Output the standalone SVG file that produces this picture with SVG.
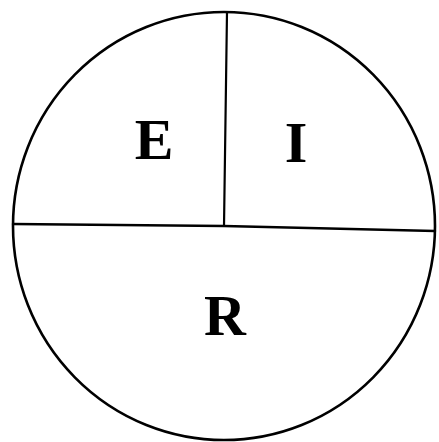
<svg xmlns="http://www.w3.org/2000/svg" width="439" height="442" viewBox="0 0 439 442">
<style>
.ln{fill:none;stroke:#000;stroke-linecap:round}
.lb{font-family:"Liberation Serif","Times New Roman",serif;font-weight:bold;font-size:58px;fill:#000;text-anchor:middle}
</style>
<rect width="439" height="442" fill="#fff"/>
<g id="connectors">
<ellipse id="circle" class="ln" cx="224" cy="226" rx="211" ry="214" stroke-width="2.6"/>
<path class="ln" d="M13 224 L224 226 L435 231" stroke-width="2.4"/>
<path class="ln" d="M227 12 L224 226" stroke-width="2.2"/>
</g>
<g id="E"><text class="lb" x="154" y="159">E</text></g>
<g id="I"><text class="lb" x="296" y="162">I</text></g>
<g id="R"><text class="lb" x="225" y="335">R</text></g>
</svg>
